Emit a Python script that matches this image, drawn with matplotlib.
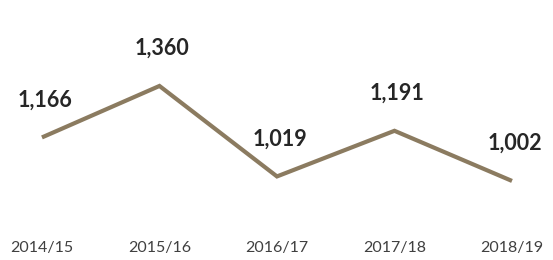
import matplotlib.pyplot as plt
import matplotlib.transforms as mtransforms

years = ["2014/15", "2015/16", "2016/17", "2017/18", "2018/19"]
values = [1166, 1360, 1019, 1191, 1002]
value_labels = ["1,166", "1,360", "1,019", "1,191", "1,002"]

line_color = '#8B7B60'

fig = plt.figure(figsize=(5.53, 2.6), dpi=100)
ax = fig.add_axes([0, 0, 1, 1])
ax.axis('off')

x = list(range(len(years)))
ax.plot(x, values, color=line_color, linewidth=3, solid_capstyle='butt', solid_joinstyle='miter')
ax.set_xlim(-0.357, 4.349)
ax.set_ylim(704, 1684)

# value labels above each point
for xi, v, lab in zip(x, values, value_labels):
    ax.annotate(lab, (xi, v), xytext=(2, 27), textcoords='offset points',
                ha='center', va='center', fontsize=15.5, fontweight='bold',
                family=['Lato', 'DejaVu Sans'], color='#262626')

# category labels along the bottom
trans = mtransforms.blended_transform_factory(ax.transData, ax.transAxes)
for xi, yr in zip(x, years):
    ax.text(xi, 0.045, yr, transform=trans, ha='center', va='center',
            fontsize=11.5, family=['Lato', 'DejaVu Sans'], color='#404040')

fig.savefig('out.png', dpi=100)
